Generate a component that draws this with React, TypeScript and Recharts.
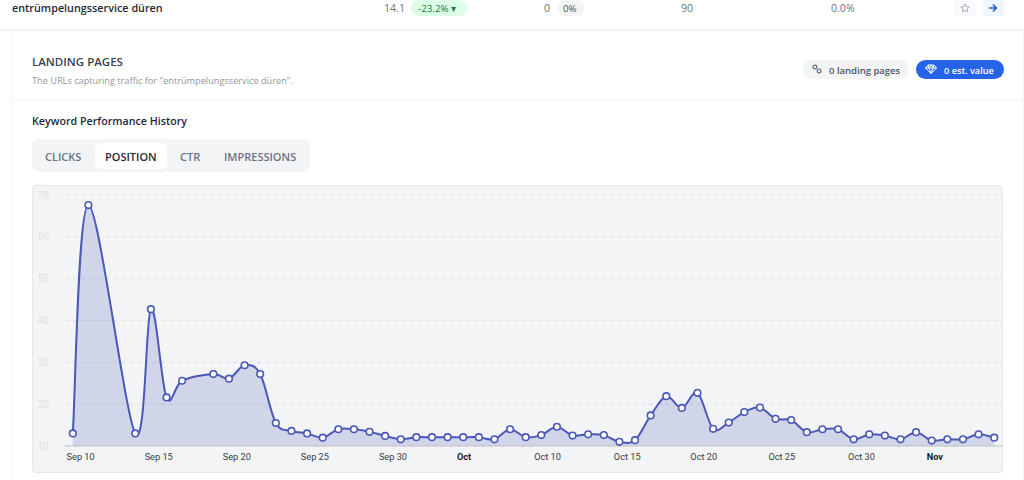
import { AreaChart, Area, CartesianGrid, XAxis, YAxis } from "recharts";
import type { CSSProperties, ReactNode } from "react";

const dayIndex = [
  0, 1, 4, 5, 6, 7, 9, 10, 11, 12, 13, 14, 15, 16, 17, 18, 19, 20, 21, 22, 23, 24, 25, 26, 27, 28, 29, 30, 31, 32,
  33, 34, 35, 36, 37, 38, 39, 40, 41, 42, 43, 44, 45, 46, 47, 48, 49, 50, 51, 52, 53, 54, 55, 56, 57, 58, 59,
];
const positionValues = [
  13, 67.6, 13, 42.7, 21.6, 25.6, 27.2, 26.1, 29.3, 27.2, 15.5, 13.6, 13, 12, 14, 14, 13.4, 12.4, 11.6, 12.1, 12.1,
  12.1, 12.1, 12.1, 11.6, 14, 12.1, 12.6, 14.6, 12.5, 12.8, 12.6, 11, 11.4, 17.3, 21.9, 19.1, 22.7, 14.1, 15.6, 18.1,
  19.2, 16.5, 16.2, 13.3, 14, 14, 11.6, 12.8, 12.5, 11.6, 13.3, 11.3, 11.6, 11.6, 12.8, 12,
];
const xTickDays = [0.5, 5.5, 10.5, 15.5, 20.5, 25.05, 30.4, 35.5, 40.4, 45.4, 50.5, 55.2];
const xTickLabels = [
  "Sep 10", "Sep 15", "Sep 20", "Sep 25", "Sep 30", "Oct", "Oct 10", "Oct 15", "Oct 20", "Oct 25", "Oct 30", "Nov",
];
const yTicks = [10, 20, 30, 40, 50, 60, 70];
const tabs = ["CLICKS", "POSITION", "CTR", "IMPRESSIONS"];

const chartData = dayIndex.map((day, i) => ({ day, position: positionValues[i] }));

const UI_FONT = '"Open Sans", "Noto Sans", sans-serif';
const LINE = "#4a58b8";

// recharts has no cardinal curve by name, so this is a small catmull-rom curve factory
const smoothCurve = (context: any) => {
  let pts: number[][] = [];
  let area = NaN;
  return {
    areaStart() { area = 0; },
    areaEnd() { area = NaN; },
    lineStart() { pts = []; },
    point(x: number, y: number) { pts.push([x, +y]); },
    lineEnd() {
      if (area === 1) context.lineTo(pts[0][0], pts[0][1]);
      else context.moveTo(pts[0][0], pts[0][1]);
      for (let i = 0; i < pts.length - 1; i++) {
        const p0 = pts[Math.max(i - 1, 0)];
        const p1 = pts[i];
        const p2 = pts[i + 1];
        const p3 = pts[Math.min(i + 2, pts.length - 1)];
        context.bezierCurveTo(
          p1[0] + (p2[0] - p0[0]) / 6, p1[1] + (p2[1] - p0[1]) / 6,
          p2[0] - (p3[0] - p1[0]) / 6, p2[1] - (p3[1] - p1[1]) / 6,
          p2[0], p2[1],
        );
      }
      if (area === 1) context.closePath();
      area = 1 - area;
    },
  };
};

const Text = ({ x, y, size, weight = 400, color, children }: {
  x: number; y: number; size: number; weight?: number; color: string; children: ReactNode;
}) => (
  <div style={{
    position: "absolute", left: x, top: y, transform: "translateY(-50%)", fontSize: size, fontWeight: weight,
    color, whiteSpace: "nowrap", lineHeight: 1,
  }}>
    {children}
  </div>
);

const Box = ({ x, y, w, h, style }: { x: number; y: number; w: number; h: number; style: CSSProperties }) => (
  <div style={{ position: "absolute", left: x, top: y, width: w, height: h, ...style }} />
);

const DateTick = (props: any) => {
  const label = xTickLabels[props.index];
  const isMonth = label === "Oct" || label === "Nov";
  return (
    <text
      x={props.x}
      y={props.y + 4}
      textAnchor="middle"
      dominantBaseline="middle"
      fontFamily="Roboto, sans-serif"
      fontSize={9.2}
      fontWeight={isMonth ? 700 : 400}
      fill={isMonth ? "#222" : "#373d3f"}
    >
      {label}
    </text>
  );
};

const App = () => (
  <div style={{
    position: "absolute", left: 0, top: 0, width: 1024, height: 480, overflow: "hidden", background: "#fff",
    fontFamily: UI_FONT,
  }}>
    {/* keyword row */}
    <Text x={12} y={8} size={10.8} weight={600} color="#1f2937">entrümpelungsservice düren</Text>
    <Text x={384} y={8} size={10.6} color="#6b7280">14.1</Text>
    <Box x={411} y={0} w={56} h={16} style={{ background: "#dcfce7", borderRadius: 8 }} />
    <Text x={418} y={8.5} size={9.8} color="#15803d">-23.2% ▾</Text>
    <Text x={544} y={8} size={10.6} color="#6b7280">0</Text>
    <Box x={557} y={0} w={27} h={16} style={{ background: "#f3f4f6", borderRadius: 8 }} />
    <Text x={563} y={8.5} size={9.8} color="#4b5563">0%</Text>
    <Text x={681} y={8} size={10.6} color="#6b7280">90</Text>
    <Text x={831} y={8} size={10.6} color="#6b7280">0.0%</Text>
    <Box x={954} y={0} w={22} h={16} style={{ background: "#f9fafb", borderRadius: 4 }} />
    <svg style={{ position: "absolute", left: 960, top: 3 }} width={10} height={10} viewBox="0 0 24 24">
      <path d="M12 2l3 7 7 .6-5.4 4.7 1.7 7.2L12 17.6 5.7 21.500l1.700-7.200L2 9.600 9 9z" fill="none" stroke="#9ca3af" strokeWidth={2} />
    </svg>
    <Box x={982} y={0} w={22} h={16} style={{ background: "#eff6ff", borderRadius: 4 }} />
    <svg style={{ position: "absolute", left: 988, top: 3 }} width={10} height={10} viewBox="0 0 24 24">
      <path d="M2 12h18M12 4l8 8-8 8" fill="none" stroke="#2563eb" strokeWidth={4} />
    </svg>
    <Box x={0} y={29} w={1024} h={2} style={{ background: "#f3f4f6" }} />

    {/* landing pages header */}
    <Box x={12} y={31} w={1012} h={449} style={{ borderLeft: "1px solid #f7f7f8", borderRight: "1px solid #f3f4f6", boxSizing: "border-box" }} />
    <Text x={32} y={61.5} size={11.5} weight={600} color="#374151">LANDING PAGES</Text>
    <Text x={32} y={80.5} size={9.2} color="#9097a1">The URLs capturing traffic for "entrümpelungsservice düren".</Text>
    <Box x={12} y={99} w={1012} h={1} style={{ background: "#f3f4f6" }} />

    <Box x={803} y={60} w={106} h={19} style={{ background: "#f3f4f6", borderRadius: 10 }} />
    <svg style={{ position: "absolute", left: 812, top: 64 }} width={10} height={10} viewBox="0 0 24 24">
      <circle cx={7} cy={7} r={4.500} fill="none" stroke="#6b7280" strokeWidth={3} />
      <circle cx={17} cy={17} r={4.500} fill="none" stroke="#6b7280" strokeWidth={3} />
    </svg>
    <Text x={829} y={70.5} size={9.5} weight={600} color="#4b5563">0 landing pages</Text>
    <Box x={916} y={60} w={88} h={19} style={{ background: "#2563eb", borderRadius: 10 }} />
    <svg style={{ position: "absolute", left: 925, top: 64 }} width={12} height={10} viewBox="0 0 24 20">
      <path d="M6 2h12l5 6-11 11L1 8zM1 8h22M8 8l4 11 4-11M6 2l2 6 4-6 4 6 2-6" fill="none" stroke="#fff" strokeWidth={2} />
    </svg>
    <Text x={944} y={70.5} size={9.2} weight={600} color="#fff">0 est. value</Text>

    {/* tabs */}
    <Text x={32} y={121} size={10.7} weight={600} color="#1f2937">Keyword Performance History</Text>
    <Box x={32} y={139} w={278} h={33} style={{ background: "#f3f4f6", borderRadius: 8 }} />
    <Box x={95} y={143} w={72} h={26} style={{ background: "#fff", borderRadius: 6 }} />
    <Text x={45} y={156} size={11} weight={600} color="#6b7280">{tabs[0]}</Text>
    <Text x={105} y={156} size={11} weight={600} color="#1f2937">{tabs[1]}</Text>
    <Text x={180} y={156} size={11} weight={600} color="#6b7280">{tabs[2]}</Text>
    <Text x={224} y={156} size={11} weight={600} color="#6b7280">{tabs[3]}</Text>

    {/* chart panel */}
    <div style={{
      position: "absolute", left: 32, top: 185, width: 971, height: 288, boxSizing: "border-box",
      background: "#f3f4f6", border: "1px solid #e5e7eb", borderRadius: 4,
    }} />
    <div style={{ position: "absolute", left: 32, top: 185 }}>
      <AreaChart width={971} height={288} data={chartData} margin={{ top: 10, right: 1, bottom: 0, left: 0 }}>
        <CartesianGrid vertical={false} stroke="#dcdde1" strokeDasharray="4 4" />
        <XAxis
          dataKey="day"
          type="number"
          domain={[-0.5, 59.5]}
          ticks={xTickDays}
          interval={0}
          height={27}
          tickLine={false}
          axisLine={{ stroke: "#c4c5c9" }}
          tick={DateTick}
        />
        <YAxis
          domain={[10, 70]}
          ticks={yTicks}
          width={33}
          axisLine={false}
          tickLine={false}
          tickMargin={10}
          tick={{ fontFamily: "Roboto, sans-serif", fontSize: 10, fill: "#dfe0e4" }}
        />
        <Area
          dataKey="position"
          type={smoothCurve as any}
          stroke={LINE}
          strokeWidth={2}
          fill={LINE}
          fillOpacity={0.2}
          dot={{ r: 3.3, fill: "#fff", stroke: LINE, strokeWidth: 1.6, fillOpacity: 1 }}
          isAnimationActive={false}
        />
      </AreaChart>
    </div>
  </div>
);

export default App;
